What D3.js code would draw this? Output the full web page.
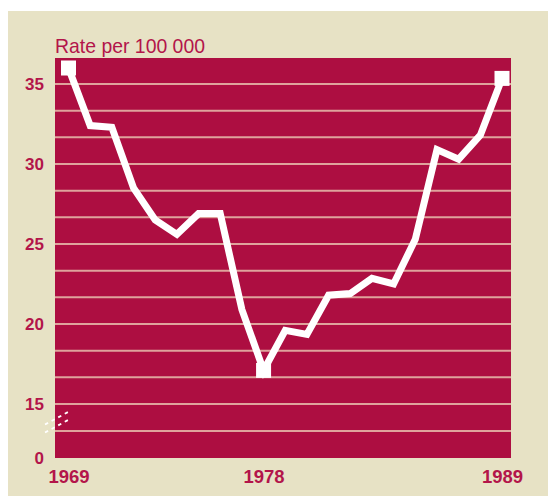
<!DOCTYPE html>
<html>
<head>
<meta charset="utf-8">
<script src="https://cdn.jsdelivr.net/npm/d3@7"></script>
<style>
  body { margin: 0; background: #fff; }
  svg { display: block; }
</style>
</head>
<body>
<svg id="chart" width="548" height="496"></svg>
<script>
// the data
const years = [1969, 1970, 1971, 1972, 1973, 1974, 1975, 1976, 1977, 1978, 1979,
               1980, 1981, 1982, 1983, 1984, 1985, 1986, 1987, 1988, 1989];
const rates = [36.0, 32.4, 32.3, 28.5, 26.5, 25.6, 26.9, 26.9, 20.9, 17.1, 19.6,
               19.35, 21.8, 21.9, 22.85, 22.5, 25.3, 30.9, 30.3, 31.8, 35.35];
const markerYears = [1969, 1978, 1989];
const yTicks = [0, 15, 20, 25, 30, 35];
const xTicks = [1969, 1978, 1989];
const yLabel = "Rate per 100 000";

const red = "#ad0e41";
const beige = "#e7e2c5";

let svg = d3.select("#chart");

// plot box
const plotL = 55, plotR = 511, plotT = 58, plotB = 458;

// x scale
let x = d3.scaleLinear()
  .domain([1969, 1989])
  .range([68.5, 502]);

// broken y axis: 0..15 squeezed, 15..top regular
let y = d3.scaleLinear()
  .domain([0, 15, 36.625])
  .range([plotB, 404, plotT]);

// background
svg.append("rect")
  .attr("x", 8).attr("y", 11)
  .attr("width", 540).attr("height", 485)
  .attr("fill", beige);

svg.append("rect")
  .attr("x", plotL).attr("y", plotT)
  .attr("width", plotR - plotL).attr("height", plotB - plotT)
  .attr("fill", red);

// grid lines (one in the broken part, then every 5/3)
let gridVals = [7.5].concat(d3.range(15, 36.6, 5 / 3));
svg.append("g")
  .selectAll("line")
  .data(gridVals)
  .enter()
  .append("line")
  .attr("x1", plotL).attr("x2", plotR)
  .attr("y1", d => y(d)).attr("y2", d => y(d))
  .attr("stroke", "#dfa39c")
  .attr("stroke-width", 2);

// axis break mark
let bx = plotL + 2, by = y(10);
[-4, 4].forEach(function (off) {
  svg.append("line")
    .attr("x1", bx - 12).attr("y1", by + off + 6.5)
    .attr("x2", bx + 13).attr("y2", by + off - 7)
    .attr("stroke", "#fff")
    .attr("stroke-width", 1.8)
    .attr("stroke-dasharray", "3.5,4");
});

// y axis
let yAxis = svg.append("g")
  .attr("transform", "translate(" + (plotL - 11) + ",0)")
  .call(d3.axisLeft(y).tickValues(yTicks).tickSize(0).tickPadding(0));
yAxis.select(".domain").remove();
yAxis.selectAll("text")
  .attr("fill", "#b3154a")
  .attr("font-family", "'Liberation Sans', Arial, sans-serif")
  .attr("font-weight", "bold")
  .attr("font-size", 17)
  .attr("dy", "0.3em");

// x axis
let xAxis = svg.append("g")
  .attr("transform", "translate(0," + plotB + ")")
  .call(d3.axisBottom(x).tickValues(xTicks).tickFormat(d3.format("d")).tickSize(0).tickPadding(0));
xAxis.select(".domain").remove();
xAxis.selectAll("text")
  .attr("fill", "#b3154a")
  .attr("font-family", "'Liberation Sans', Arial, sans-serif")
  .attr("font-weight", "bold")
  .attr("font-size", 18.5)
  .attr("dy", 0)
  .attr("y", 25);

// title of the y axis (condensed look)
svg.append("text")
  .attr("x", plotL)
  .attr("y", 53)
  .attr("fill", "#b3154a")
  .attr("font-family", "'Liberation Sans', Arial, sans-serif")
  .attr("font-size", 21)
  .attr("textLength", 150)
  .attr("lengthAdjust", "spacingAndGlyphs")
  .text(yLabel);

// the line
let line = d3.line()
  .x((d, i) => x(years[i]))
  .y(d => y(d));

svg.append("path")
  .datum(rates)
  .attr("d", line)
  .attr("fill", "none")
  .attr("stroke", "#fff")
  .attr("stroke-width", 7)
  .attr("stroke-linejoin", "miter");

// square markers
const sq = 15;
svg.append("g")
  .selectAll("rect")
  .data(markerYears)
  .enter()
  .append("rect")
  .attr("x", d => x(d) - sq / 2)
  .attr("y", d => y(rates[years.indexOf(d)]) - sq / 2)
  .attr("width", sq).attr("height", sq)
  .attr("fill", "#fff");
</script>
</body>
</html>
